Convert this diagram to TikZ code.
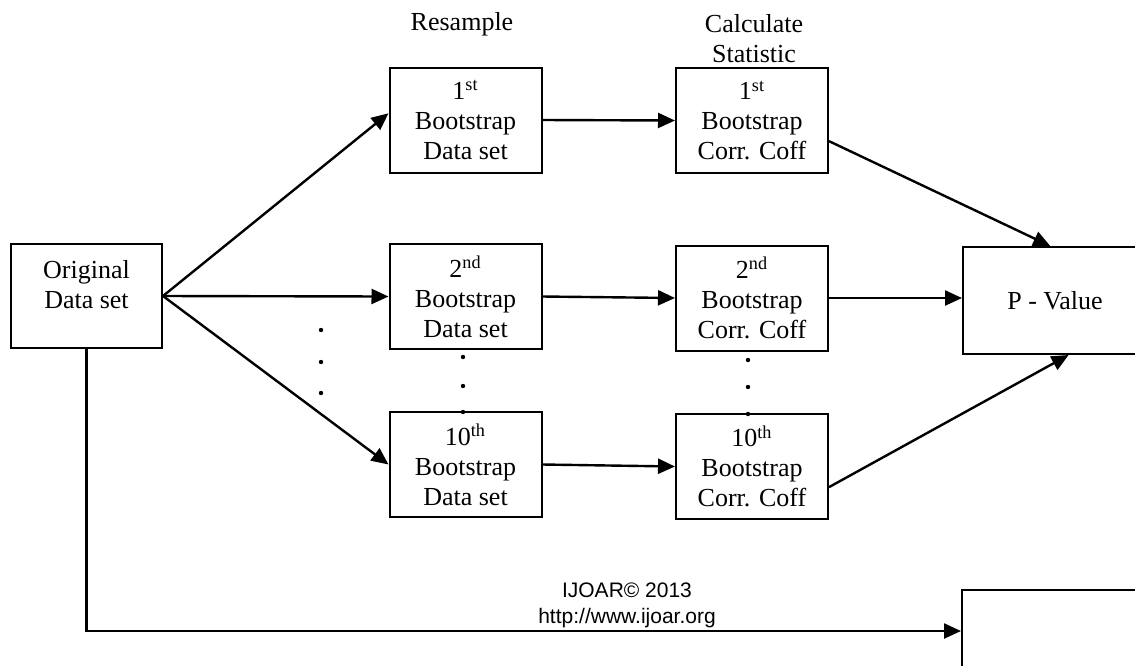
\documentclass[tikz,border=0pt]{standalone}
\usepackage{fontspec}
\setmainfont{Liberation Serif}
\newfontfamily\footfont{Liberation Sans}
\usetikzlibrary{arrows.meta}

\begin{document}
\begin{tikzpicture}[x = 0.5pt, y = -0.5pt, >={Triangle[length=8.5pt,width=7.5pt]},
    box/.style = {draw, line width = 1pt, align = center, inner sep = 0pt,
      minimum width = 76pt, minimum height = 52.5pt, font = \fontsize{13}{15}\selectfont},
    flow/.style = {->, line width = 1.2pt}]
    \clip (0,0) rectangle (1135,665);

    \node[font = \fontsize{13}{15}\selectfont, anchor = base](resample) at (462,30) {Resample};
    \node[font = \fontsize{13}{15}\selectfont, align = center](calculate) at (754,39) {Calculate\\Statistic};

    \node[box, minimum width = 75.5pt, minimum height = 52pt](original) at (86.5,296) {};
    \node[font = \fontsize{13}{15}\selectfont, align = center](originalText) at (86.5,285) {Original\\Data set};

    \node[box](sampleA) at (465.5,120) {1\textsuperscript{st}\\Bootstrap\\Data set};
    \node[box](sampleB) at (465.5,296.5) {2\textsuperscript{nd}\\Bootstrap\\Data set};
    \node[box](sampleC) at (465.5,464.5) {10\textsuperscript{th}\\Bootstrap\\Data set};

    \node[box](coffA) at (752,120.5) {1\textsuperscript{st}\\Bootstrap\\Corr. Coff};
    \node[box](coffB) at (752,298) {2\textsuperscript{nd}\\Bootstrap\\Corr. Coff};
    \node[box](coffC) at (752,466.5) {10\textsuperscript{th}\\Bootstrap\\Corr. Coff};

    \node[box, minimum width = 92pt, minimum height = 53.5pt](pvalue) at (1055,300.5) {P - Value};
    \node[box, minimum width = 92pt, minimum height = 41pt](nextStep) at (1054,631) {};

    \node[font = \footfont\fontsize{10.5}{13}\selectfont, align = center](journal) at (627,605) {IJOAR© 2013\\http://www.ijoar.org};

    \draw [flow] (original.east) -- (sampleA.175);
    \draw [flow] (original.east) -- (sampleB.west);
    \draw [flow] (original.east) -- (sampleC.west);

    \draw [flow] (sampleA.east) -- (coffA.west);
    \draw [flow] (sampleB.east) -- (coffB.west);
    \draw [flow] (sampleC.east) -- (coffC.west);

    \draw [flow] (coffA.-15) -- (pvalue.95);
    \draw [flow] (coffB.east) -- (coffB.east -| pvalue.west);
    \draw [flow] (coffC.-15) -- (pvalue.-76);

    \draw [flow] (original.south) |- (nextStep.west);

    \foreach \y in {330,362,393} \fill (321,\y) circle (1.1pt);
    \foreach \y in {357,386,412} \fill (463,\y) circle (1.1pt);
    \foreach \y in {360,387,414} \fill (748,\y) circle (1.1pt);
\end{tikzpicture}
\end{document}
